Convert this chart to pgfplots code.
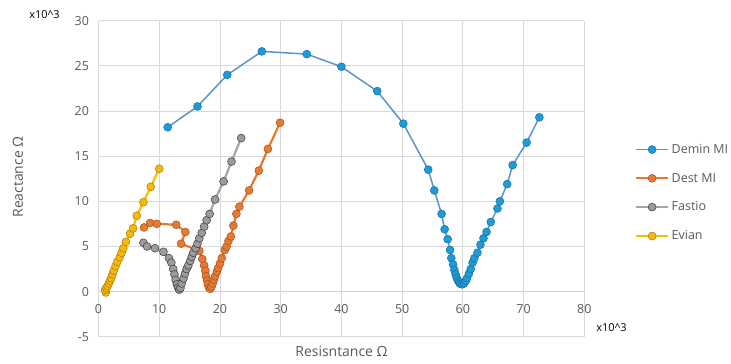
\documentclass[border=0pt]{standalone}
\usepackage{fontspec}
\setmainfont{Open Sans}
\usepackage{pgfplots}
\pgfplotsset{compat=1.18}

\definecolor{gridgray}{HTML}{D9D9D9}
\definecolor{zerogray}{HTML}{CFCFCF}
\definecolor{labelgray}{HTML}{595959}
\definecolor{deminline}{HTML}{5A94CF}
\definecolor{deminfill}{HTML}{1E9BD7}
\definecolor{demindraw}{HTML}{156FA3}
\definecolor{destline}{HTML}{E9782F}
\definecolor{destfill}{HTML}{E57A35}
\definecolor{destdraw}{HTML}{A9501C}
\definecolor{fastline}{HTML}{A5A5A5}
\definecolor{fastfill}{HTML}{9C9C9C}
\definecolor{fastdraw}{HTML}{3A3A3A}
\definecolor{evianline}{HTML}{F7C000}
\definecolor{evianfill}{HTML}{F6B80F}
\definecolor{eviandraw}{HTML}{B07A00}

\begin{document}
\begin{tikzpicture}[x=1bp,y=1bp]
\useasboundingbox (0,0) rectangle (731,363);
\begin{axis}[
  at={(98.5bp,26.3bp)}, anchor=south west,
  scale only axis, width=485.8bp, height=316bp,
  xmin=0, xmax=80, ymin=-5, ymax=30,
  xtick={0,10,...,80}, ytick={-5,0,...,30},
  grid=major, major grid style={gridgray, line width=0.8pt},
  axis line style={draw=none},
  major tick length=0pt,
  tick label style={font=\fontsize{12.5}{14}\selectfont, text=labelgray},
  /pgf/number format/assume math mode=true,
  xticklabel style={yshift=36bp},
  yticklabel style={xshift=-6bp},
  extra y ticks={0}, extra y tick labels={},
  extra y tick style={grid=major, major grid style={zerogray, line width=1.6pt}},
  clip=false,
  legend cell align=left,
  legend style={at={(axis description cs:1.104,0.616)}, anchor=north west,
    draw=none, fill=none, inner sep=0pt, row sep=14.3bp,
    font=\fontsize{12.5}{14}\selectfont, text=labelgray,
    nodes={inner xsep=2.5bp}},
  legend image code/.code={%
    \draw[mark repeat=2,mark phase=2] plot coordinates {(0bp,0bp)(16bp,0bp)(32bp,0bp)};},
  every axis plot/.append style={mark=*, mark size=4pt},
]

% Demin MI
\addplot[deminline, line width=1.5pt, mark options={fill=deminfill, draw=demindraw, line width=0.5pt}] coordinates {
(11.4,18.2) (16.3,20.5) (21.2,24.0) (26.9,26.6) (34.3,26.3) (40.0,24.9)
(45.9,22.2) (50.2,18.6) (54.3,13.5) (55.3,11.2) (56.5,8.6) (57.0,6.9)
(57.5,5.8) (57.9,4.6) (58.1,3.7) (58.4,3.0) (58.6,2.4) (58.8,1.9)
(59.0,1.5) (59.2,1.2) (59.4,1.0) (59.6,0.85) (59.9,0.8) (60.2,0.9)
(60.5,1.2) (60.7,1.5) (61.0,2.0) (61.3,2.5) (61.6,3.2) (61.9,3.7)
(62.4,4.3) (62.9,5.2) (63.4,5.9) (63.9,6.6) (64.6,7.7) (65.7,9.2)
(66.1,10.0) (67.3,11.9) (68.2,14.0) (70.5,16.5) (72.6,19.3)
};
\addlegendentry{Demin MI}

% Dest MI
\addplot[destline, line width=2.2pt, mark options={fill=destfill, draw=destdraw, line width=0.5pt}] coordinates {
(7.5,7.1) (8.5,7.6) (9.6,7.5) (12.8,7.4) (14.3,6.6) (13.6,5.3)
(16.6,4.5) (17.1,3.6) (17.4,2.9) (17.6,2.3) (17.7,1.7) (17.9,1.2)
(18.0,0.8) (18.2,0.45) (18.4,0.3) (18.6,0.5) (18.8,0.9) (19.0,1.3)
(19.2,1.7) (19.5,2.2) (19.7,2.6) (20.0,3.1) (20.3,3.7) (20.8,4.6)
(21.1,5.0) (21.4,5.6) (21.8,6.1) (22.2,7.3) (22.7,8.6) (23.2,9.4)
(24.8,11.2) (26.4,13.4) (27.9,15.8) (29.9,18.7)
};
\addlegendentry{Dest MI}

% Fastio
\addplot[fastline, line width=2.2pt, mark options={fill=fastfill, draw=fastdraw, line width=0.5pt}] coordinates {
(7.4,5.4) (8.0,5.0) (9.3,4.8) (10.7,4.4) (11.6,3.7) (12.0,3.2)
(12.3,2.5) (12.5,1.9) (12.7,1.3) (12.9,0.8) (13.1,0.45) (13.3,0.2)
(13.5,0.4) (13.7,0.9) (14.0,1.45) (14.25,2.0) (14.5,2.5) (14.8,2.9)
(15.1,3.4) (15.35,3.85) (15.6,4.3) (16.0,4.8) (16.3,5.3) (16.6,5.9)
(17.0,6.5) (17.4,7.2) (17.8,7.9) (18.3,8.6) (19.2,10.2) (20.6,12.2)
(21.9,14.4) (23.5,17.0)
};
\addlegendentry{Fastio}

% Evian
\addplot[evianline, line width=2.2pt, mark options={fill=evianfill, draw=eviandraw, line width=0.5pt}] coordinates {
(1.2,-0.1) (1.1,0.2) (1.3,0.4) (1.5,0.6) (1.7,0.9) (1.9,1.2)
(2.1,1.5) (2.3,1.9) (2.5,2.3) (2.8,2.8) (3.1,3.3) (3.5,3.8)
(3.8,4.3) (4.1,4.8) (4.5,5.5) (5.2,6.4) (5.7,7.0) (6.3,8.4)
(7.4,9.9) (8.6,11.6) (10.0,13.6)
};
\addlegendentry{Evian}
\end{axis}

\node[rotate=90, text=labelgray, font=\fontsize{14}{16}\selectfont] at (18,186) {Reactance Ω};
\node[text=labelgray, font=\fontsize{14}{16}\selectfont] at (341.5,11.3) {Resisntance Ω};
\node[font=\fontsize{11}{12}\selectfont] at (44.5,348) {x10\textasciicircum 3};
\node[font=\fontsize{11}{12}\selectfont] at (611.5,35) {x10\textasciicircum 3};
\end{tikzpicture}
\end{document}
